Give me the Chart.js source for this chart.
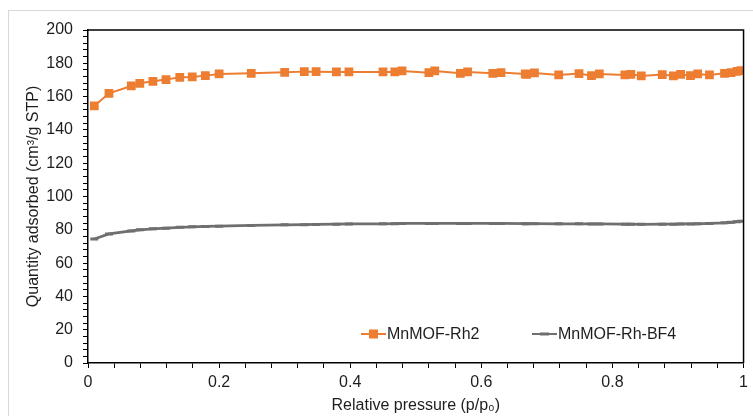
<!DOCTYPE html>
<html>
<head>
<meta charset="utf-8">
<script src="https://cdn.jsdelivr.net/npm/chart.js@4"></script>
<style>
    html, body { margin: 0; padding: 0; background: #fff; }
    #wrap { position: relative; width: 753px; height: 416px; }
</style>
</head>
<body>
<div id="wrap"><canvas id="isoChart" width="753" height="416"></canvas></div>
<script>
// relative pressure p/p0
const pressure = [0.0096, 0.032, 0.066, 0.079, 0.099, 0.119, 0.14, 0.159, 0.179, 0.2,
    0.249, 0.3, 0.33, 0.348, 0.379, 0.398, 0.45, 0.468, 0.479, 0.52, 0.529, 0.568,
    0.579, 0.6175, 0.63, 0.667, 0.669, 0.681, 0.718, 0.749, 0.768, 0.78, 0.819,
    0.828, 0.844, 0.876, 0.893, 0.904, 0.919, 0.93, 0.948, 0.971, 0.981, 0.99, 0.996];

// quantity adsorbed, cm3/g STP
const rh2 = [154.4, 162, 166.4, 168, 169.2, 170.2, 171.6, 171.8, 172.6, 173.6,
    174, 174.6, 175, 175, 174.8, 174.8, 174.8, 174.8, 175.4, 174.4, 175.4, 174,
    174.8, 174, 174.4, 173.6, 173.4, 174.2, 173, 173.8, 172.6, 173.6, 173,
    173.4, 172.4, 173.2, 172.4, 173.4, 172.6, 173.6, 173, 174, 174.4, 175.2, 175.6];

const rhBF4 = [74.5, 77.5, 79.3, 80, 80.6, 81, 81.5, 81.8, 82, 82.2,
    82.6, 83, 83.1, 83.2, 83.4, 83.5, 83.6, 83.7, 83.8, 83.8, 83.8, 83.8,
    83.8, 83.8, 83.8, 83.7, 83.7, 83.7, 83.6, 83.6, 83.5, 83.5, 83.4,
    83.4, 83.3, 83.4, 83.4, 83.5, 83.5, 83.6, 83.8, 84.2, 84.5, 84.9, 85.2];

const seriesNames = ["MnMOF-Rh2", "MnMOF-Rh-BF4"];

const ORANGE = "#ED7D31";
const GRAY = "#6F6F6F";
const TEXT = "#1E1E1E";
const FONT = "'Liberation Sans', Arial, sans-serif";

const toPoints = (ys) => pressure.map((x, i) => ({ x: x, y: ys[i] }));

// outer light frame and plot box
const framePlugin = {
    id: "frame",
    beforeDraw(chart) {
        const ctx = chart.ctx;
        ctx.save();
        ctx.strokeStyle = "#D9D9D9";
        ctx.lineWidth = 1;
        ctx.strokeRect(8.5, 10.5, 800, 500);
        ctx.restore();
    },
    afterDatasetsDraw(chart) {
        const { ctx, chartArea } = chart;
        ctx.save();
        ctx.strokeStyle = "#000";
        ctx.lineWidth = 1.5;
        ctx.beginPath();
        ctx.moveTo(chartArea.left, chartArea.top);
        ctx.lineTo(chartArea.right, chartArea.top);
        ctx.lineTo(chartArea.right, chartArea.bottom);
        ctx.stroke();
        ctx.restore();
    },
};

// legend inside the plot area
const legendPlugin = {
    id: "innerLegend",
    afterDraw(chart) {
        const ctx = chart.ctx;
        const items = [
            { x: 361, color: ORANGE, style: "rect" },
            { x: 532, color: GRAY, style: "line" },
        ];
        const y = 334;
        ctx.save();
        items.forEach((it, i) => {
            ctx.strokeStyle = it.color;
            ctx.lineWidth = 2;
            ctx.beginPath();
            ctx.moveTo(it.x, y);
            ctx.lineTo(it.x + 25, y);
            ctx.stroke();
            if (it.style === "rect") {
                ctx.fillStyle = it.color;
                ctx.fillRect(it.x + 8, y - 4.5, 9, 9);
            } else {
                ctx.lineWidth = 3;
                ctx.beginPath();
                ctx.moveTo(it.x + 8, y);
                ctx.lineTo(it.x + 17, y);
                ctx.stroke();
            }
            ctx.fillStyle = TEXT;
            ctx.font = "16px " + FONT;
            ctx.textBaseline = "middle";
            ctx.fillText(seriesNames[i], it.x + 26, y + 1);
        });
        ctx.restore();
    },
};

new Chart(document.getElementById("isoChart"), {
    type: "scatter",
    data: {
        datasets: [
            {
                label: seriesNames[0],
                data: toPoints(rh2),
                showLine: true,
                borderColor: ORANGE,
                backgroundColor: ORANGE,
                borderWidth: 2,
                pointStyle: "rect",
                pointRadius: 6.2,
                pointBorderWidth: 0,
            },
            {
                label: seriesNames[1],
                data: toPoints(rhBF4),
                showLine: true,
                borderColor: GRAY,
                backgroundColor: GRAY,
                borderWidth: 2.8,
                pointStyle: "line",
                pointRadius: 4,
                pointBorderWidth: 3,
            },
        ],
    },
    options: {
        responsive: false,
        animation: false,
        devicePixelRatio: 1,
        layout: { padding: { top: 30, right: 7, left: 0, bottom: 0 } },
        plugins: {
            legend: { display: false },
            tooltip: { enabled: false },
        },
        scales: {
            x: {
                type: "linear",
                min: 0,
                max: 1,
                afterFit: (scale) => { scale.height = 53; },
                border: { color: "#000", width: 1.5 },
                grid: { drawOnChartArea: false, color: "#000", tickLength: 5, lineWidth: 1 },
                ticks: {
                    stepSize: 0.04,
                    autoSkip: false,
                    maxRotation: 0,
                    padding: 5,
                    color: TEXT,
                    font: { family: FONT, size: 16 },
                    callback: (v) => {
                        const r = Math.round(v * 100);
                        return r % 20 === 0 ? String(r / 100) : "";
                    },
                },
                title: {
                    display: true,
                    text: "Relative pressure (p/p\u2080)",
                    color: TEXT,
                    font: { family: FONT, size: 16 },
                    padding: { top: 2, bottom: 1 },
                },
            },
            y: {
                min: 0,
                max: 200,
                afterFit: (scale) => { scale.width = 88; },
                border: { color: "#000", width: 1.5 },
                grid: { drawOnChartArea: false, color: "#000", tickLength: 5, lineWidth: 1 },
                ticks: {
                    stepSize: 4,
                    autoSkip: false,
                    padding: 10,
                    color: TEXT,
                    font: { family: FONT, size: 16 },
                    callback: (v) => (Math.round(v) % 20 === 0 ? String(Math.round(v)) : ""),
                },
                title: {
                    display: true,
                    text: "Quantity adsorbed (cm\u00B3/g STP)",
                    color: TEXT,
                    font: { family: FONT, size: 16 },
                    padding: { top: 24, bottom: 0 },
                },
            },
        },
    },
    plugins: [framePlugin, legendPlugin],
});
</script>
</body>
</html>
